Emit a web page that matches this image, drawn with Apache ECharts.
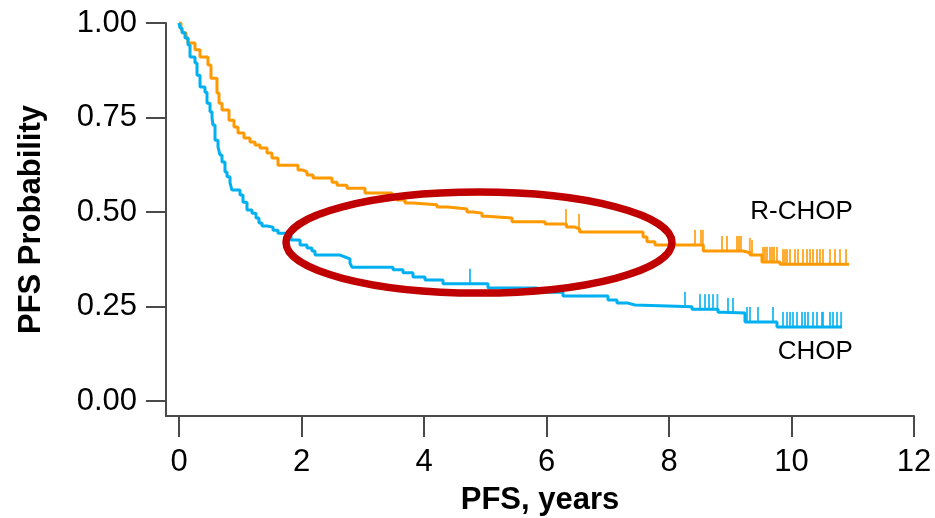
<!DOCTYPE html>
<html>
<head>
<meta charset="utf-8">
<script src="https://cdn.jsdelivr.net/npm/echarts@6/dist/echarts.min.js"></script>
<style>
html,body{margin:0;padding:0;background:#fff;}
#chart{width:935px;height:518px;}
</style>
</head>
<body>
<div id="chart"></div>
<script>
// ---- data ----
const xTicks = [0, 2, 4, 6, 8, 10, 12];
const yTicks = [0, 0.25, 0.5, 0.75, 1.0];

// R-CHOP Kaplan-Meier steps: value holds from time onward
const rchopTime = [0, 0.033, 0.065, 0.114, 0.147, 0.261, 0.343, 0.473, 0.522, 0.620, 0.653, 0.702, 0.816, 0.898, 0.963, 1.061, 1.159, 1.241, 1.322, 1.437, 1.518, 1.616, 1.943, 2.024, 2.090, 2.188, 2.498, 2.580, 2.743, 3.037, 3.478, 3.559, 3.690, 3.820, 4.212, 4.392, 4.702, 4.800, 4.947, 5.029, 5.437, 5.976, 6.325, 6.465, 6.540, 7.576, 7.641, 7.771, 8.560, 9.208, 9.322, 9.518, 9.812, 10.939];
const rchopSurv = [1.0, 0.987, 0.974, 0.960, 0.947, 0.929, 0.910, 0.889, 0.854, 0.815, 0.788, 0.770, 0.743, 0.725, 0.709, 0.696, 0.685, 0.677, 0.669, 0.656, 0.643, 0.624, 0.611, 0.606, 0.598, 0.590, 0.579, 0.571, 0.563, 0.550, 0.542, 0.532, 0.524, 0.519, 0.513, 0.508, 0.500, 0.497, 0.489, 0.484, 0.474, 0.468, 0.460, 0.455, 0.447, 0.434, 0.421, 0.413, 0.397, 0.392, 0.386, 0.368, 0.362, 0.362];
const rchopCensor = [6.318, 6.531, 8.424, 8.522, 8.553, 8.865, 8.947, 9.110, 9.143, 9.176, 9.320, 9.355, 9.535, 9.567, 9.600, 9.649, 9.682, 9.714, 9.763, 9.861, 9.894, 9.927, 9.976, 10.057, 10.106, 10.188, 10.253, 10.302, 10.351, 10.416, 10.465, 10.514, 10.629, 10.710, 10.792, 10.890];

// CHOP Kaplan-Meier steps
const chopTime = [0, 0.016, 0.049, 0.098, 0.147, 0.180, 0.261, 0.294, 0.343, 0.424, 0.457, 0.506, 0.539, 0.555, 0.588, 0.637, 0.669, 0.702, 0.751, 0.784, 0.833, 0.865, 0.996, 1.045, 1.110, 1.192, 1.257, 1.306, 1.355, 1.437, 1.535, 1.616, 1.731, 1.829, 1.976, 2.090, 2.171, 2.220, 2.629, 2.710, 2.792, 2.824, 3.494, 3.657, 3.820, 4.016, 4.310, 5.045, 5.845, 6.269, 7.004, 7.151, 7.331, 7.445, 8.376, 8.800, 8.882, 9.241, 9.763, 10.824];
const chopSurv = [1.0, 0.987, 0.974, 0.960, 0.942, 0.910, 0.894, 0.862, 0.831, 0.817, 0.788, 0.765, 0.749, 0.730, 0.690, 0.672, 0.651, 0.632, 0.606, 0.593, 0.577, 0.558, 0.545, 0.526, 0.505, 0.497, 0.484, 0.471, 0.463, 0.460, 0.452, 0.444, 0.439, 0.426, 0.413, 0.405, 0.397, 0.386, 0.381, 0.376, 0.365, 0.354, 0.347, 0.339, 0.328, 0.320, 0.310, 0.299, 0.288, 0.278, 0.267, 0.259, 0.254, 0.249, 0.243, 0.235, 0.233, 0.209, 0.196, 0.196];
const chopCensor = [4.751, 8.261, 8.506, 8.588, 8.653, 8.718, 8.790, 8.963, 9.045, 9.273, 9.322, 9.453, 9.698, 9.861, 9.927, 9.976, 10.024, 10.090, 10.171, 10.220, 10.269, 10.351, 10.416, 10.498, 10.514, 10.629, 10.678, 10.743, 10.810];

const seriesNames = ['R-CHOP', 'CHOP'];
const xTitle = 'PFS, years';
const yTitle = 'PFS Probability';

// ---- helpers ----
function pairs(t, s) { return t.map((v, i) => [v, s[i]]); }
function valueAt(t, s, x) {
  let v = s[0];
  for (let i = 0; i < t.length; i++) { if (t[i] <= x) v = s[i]; else break; }
  return v;
}
function censorPts(ct, t, s) { return ct.map(x => [x, valueAt(t, s, x)]); }

const ORANGE = '#FF9900';
const BLUE = '#00B0F0';
const AXIS = '#4a4a4a';
const FONT = "'Liberation Sans', Arial, Helvetica, sans-serif";

const chart = echarts.init(document.getElementById('chart'), null, {renderer: 'canvas'});

const option = {
  animation: false,
  backgroundColor: '#fff',
  grid: {left: 166, right: 21, top: 23, bottom: 102, containLabel: false, outerBoundsMode: 'none'},
  xAxis: {
    type: 'value',
    min: -0.2122, max: 12,
    axisLine: {show: true, onZero: false, lineStyle: {color: AXIS, width: 2}},
    axisTick: {show: true, length: 21, lineStyle: {color: AXIS, width: 2}, customValues: xTicks},
    axisLabel: {show: true, customValues: xTicks, margin: 31, fontSize: 31, color: '#000', fontFamily: FONT},
    splitLine: {show: false},
    name: xTitle, nameLocation: 'middle', nameGap: 69,
    nameTextStyle: {fontSize: 31, fontWeight: 'bold', color: '#000', fontFamily: FONT}
  },
  yAxis: {
    type: 'value',
    min: -0.0397, max: 1,
    axisLine: {show: true, onZero: false, lineStyle: {color: AXIS, width: 2}},
    axisTick: {show: true, length: 20, lineStyle: {color: AXIS, width: 2}, customValues: yTicks},
    axisLabel: {show: true, customValues: yTicks, margin: 29, fontSize: 31, color: '#000', fontFamily: FONT,
      formatter: v => v.toFixed(2)},
    splitLine: {show: false},
    name: yTitle, nameLocation: 'middle', nameGap: 119, nameRotate: 90,
    nameTextStyle: {fontSize: 31, fontWeight: 'bold', color: '#000', fontFamily: FONT}
  },
  series: [
    {name: seriesNames[0], type: 'line', step: 'end', showSymbol: false, data: pairs(rchopTime, rchopSurv),
      lineStyle: {color: ORANGE, width: 3}, itemStyle: {color: ORANGE}, z: 3},
    {name: seriesNames[1], type: 'line', step: 'end', showSymbol: false, data: pairs(chopTime, chopSurv),
      lineStyle: {color: BLUE, width: 3}, itemStyle: {color: BLUE}, z: 3},
    {name: seriesNames[0] + ' censored', type: 'scatter', data: censorPts(rchopCensor, rchopTime, rchopSurv),
      symbol: 'rect', symbolSize: [2, 15], symbolOffset: [0, '-50%'], itemStyle: {color: ORANGE}, z: 3},
    {name: seriesNames[1] + ' censored', type: 'scatter', data: censorPts(chopCensor, chopTime, chopSurv),
      symbol: 'rect', symbolSize: [2, 15], symbolOffset: [0, '-50%'], itemStyle: {color: BLUE}, z: 3}
  ]
};
chart.setOption(option);

// annotations placed in data coordinates
const ell = {cx: 4.898, cy: 0.419, rx: 3.151, ry: 0.1336};
const c = chart.convertToPixel({gridIndex: 0}, [ell.cx, ell.cy]);
const e1 = chart.convertToPixel({gridIndex: 0}, [ell.cx + ell.rx, ell.cy + ell.ry]);
const lblR = chart.convertToPixel({gridIndex: 0}, [11.0, 0.50]);
const lblC = chart.convertToPixel({gridIndex: 0}, [11.0, 0.13]);
chart.setOption({
  graphic: [
    {type: 'ellipse', z: 100, shape: {cx: c[0], cy: c[1], rx: e1[0] - c[0], ry: c[1] - e1[1]},
      style: {fill: null, stroke: '#C00000', lineWidth: 7.5}},
    {type: 'text', z: 100, x: lblR[0], y: lblR[1],
      style: {text: seriesNames[0], fontSize: 26, fontFamily: FONT, fill: '#000', align: 'right', verticalAlign: 'middle'}},
    {type: 'text', z: 100, x: lblC[0], y: lblC[1],
      style: {text: seriesNames[1], fontSize: 26, fontFamily: FONT, fill: '#000', align: 'right', verticalAlign: 'middle'}}
  ]
});
</script>
</body>
</html>
